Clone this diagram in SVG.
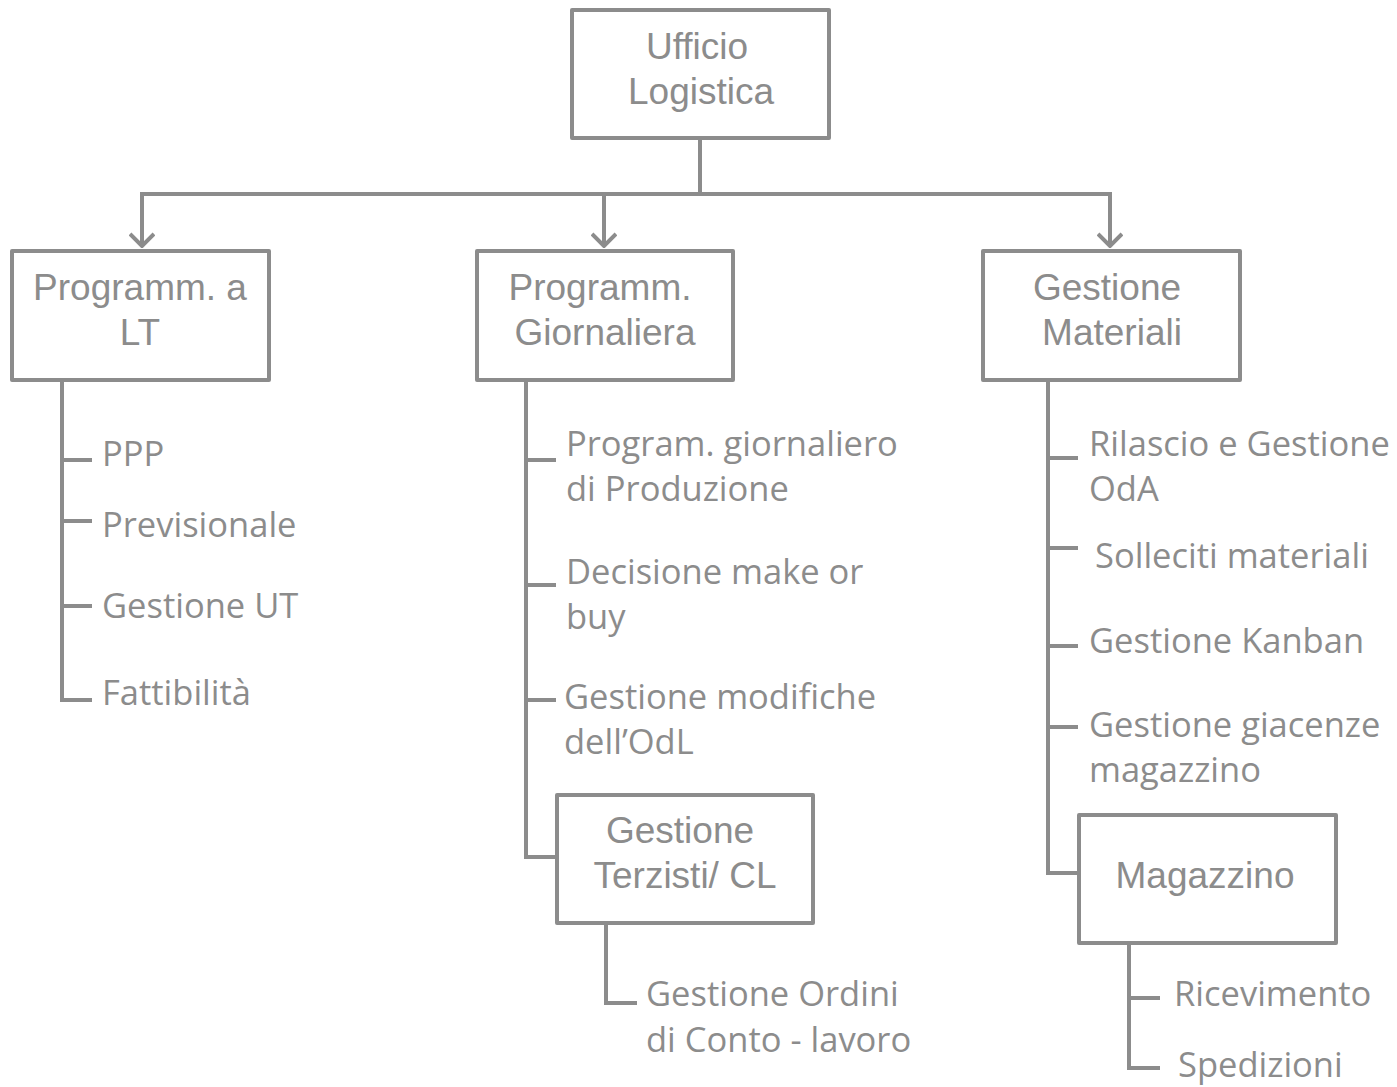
<svg xmlns="http://www.w3.org/2000/svg" width="1397" height="1087" viewBox="0 0 1397 1087">
<defs>
<style>
.box{fill:#fff;stroke:#8c8c8c;stroke-width:4;stroke-linejoin:round}
.ln{fill:none;stroke:#8c8c8c;stroke-width:4}
.bt{font-family:"Liberation Sans",Arial,sans-serif;font-size:37px;fill:#8c8c8c;text-anchor:middle}
.lt{font-family:"Open Sans","Noto Sans",sans-serif;font-size:34.5px;fill:#8c8c8c}
</style>
<marker id="arr" viewBox="0 0 16 26" refX="14" refY="13" markerWidth="16" markerHeight="26" markerUnits="userSpaceOnUse" orient="auto">
<path d="M2,1 L14,13 L2,25" fill="none" stroke="#8c8c8c" stroke-width="4"/>
</marker>
</defs>
<rect width="1397" height="1087" fill="#fff"/>
<g id="connectors">
<path class="ln" d="M700,138 V194 M140,194 H1112"/>
<path class="ln" d="M142,194 V246" marker-end="url(#arr)"/>
<path class="ln" d="M604,194 V246" marker-end="url(#arr)"/>
<path class="ln" d="M1110,194 V246" marker-end="url(#arr)"/>
<path class="ln" d="M62,380 V700 H92 M62,460 H92 M62,521 H92 M62,606 H92"/>
<path class="ln" d="M526,380 V857 H557 M526,460 H556 M526,585 H556 M526,700 H556"/>
<path class="ln" d="M606,923 V1003 H637"/>
<path class="ln" d="M1048,380 V873 H1079 M1048,458 H1078 M1048,548 H1078 M1048,646 H1078 M1048,727 H1078"/>
<path class="ln" d="M1129,943 V1068 H1160 M1129,998 H1160"/>
</g>
<g id="ufficio-logistica">
<rect class="box" x="572" y="10" width="257" height="128"/>
<text class="bt" x="697" y="59">Ufficio</text>
<text class="bt" x="701" y="104">Logistica</text>
</g>
<g id="programm-lt">
<rect class="box" x="12" y="251" width="257" height="129"/>
<text class="bt" x="140" y="300">Programm. a</text>
<text class="bt" x="140" y="345">LT</text>
</g>
<g id="programm-giornaliera">
<rect class="box" x="477" y="251" width="256" height="129"/>
<text class="bt" x="600" y="300">Programm.</text>
<text class="bt" x="605" y="345">Giornaliera</text>
</g>
<g id="gestione-materiali">
<rect class="box" x="983" y="251" width="257" height="129"/>
<text class="bt" x="1107" y="300">Gestione</text>
<text class="bt" x="1112" y="345">Materiali</text>
</g>
<g id="lt-items">
<text class="lt" x="102" y="466">PPP</text>
<text class="lt" x="102" y="537">Previsionale</text>
<text class="lt" x="102" y="618">Gestione UT</text>
<text class="lt" x="102" y="705">Fattibilità</text>
</g>
<g id="giornaliera-items">
<text class="lt" x="566" y="456">Program. giornaliero</text>
<text class="lt" x="566" y="501">di Produzione</text>
<text class="lt" x="566" y="584">Decisione make or</text>
<text class="lt" x="566" y="629">buy</text>
<text class="lt" x="564" y="709">Gestione modifiche</text>
<text class="lt" x="564" y="754">dell’OdL</text>
</g>
<g id="gestione-terzisti">
<rect class="box" x="557" y="795" width="256" height="128"/>
<text class="bt" x="680" y="843">Gestione</text>
<text class="bt" x="685" y="888">Terzisti/ CL</text>
</g>
<g id="terzisti-items">
<text class="lt" x="646" y="1006">Gestione Ordini</text>
<text class="lt" x="646" y="1052">di Conto - lavoro</text>
</g>
<g id="materiali-items">
<text class="lt" x="1089" y="456">Rilascio e Gestione</text>
<text class="lt" x="1089" y="501">OdA</text>
<text class="lt" x="1095" y="568">Solleciti materiali</text>
<text class="lt" x="1089" y="653">Gestione Kanban</text>
<text class="lt" x="1089" y="737">Gestione giacenze</text>
<text class="lt" x="1089" y="782">magazzino</text>
</g>
<g id="magazzino">
<rect class="box" x="1079" y="815" width="257" height="128"/>
<text class="bt" x="1205" y="888">Magazzino</text>
</g>
<g id="magazzino-items">
<text class="lt" x="1174" y="1006">Ricevimento</text>
<text class="lt" x="1178" y="1077">Spedizioni</text>
</g>
</svg>
